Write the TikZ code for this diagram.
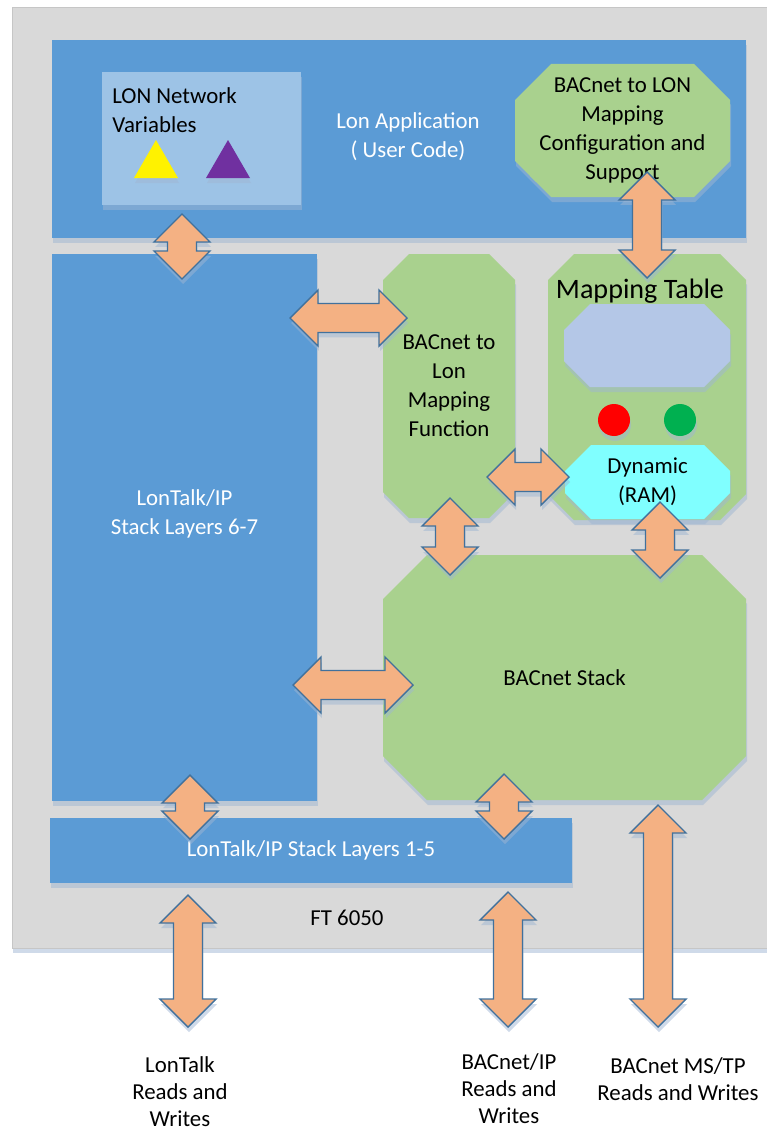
\documentclass[tikz,border=0pt]{standalone}
\usepackage{fontspec}
\setmainfont{Carlito}
\usetikzlibrary{positioning,fit,calc,shapes.misc,shadows}

\definecolor{azul}{HTML}{5B9BD5}
\definecolor{azulclaro}{HTML}{9DC3E6}
\definecolor{verde}{HTML}{A9D18E}
\definecolor{lila}{HTML}{B4C7E7}
\definecolor{cian}{HTML}{80FFFF}
\definecolor{salmon}{HTML}{F4B183}
\definecolor{borde}{HTML}{41719C}
\definecolor{fondo}{HTML}{D9D9D9}
\definecolor{sombra}{HTML}{9FB6D3}
\definecolor{morado}{HTML}{7030A0}
\definecolor{verdeok}{HTML}{00B050}

% flecha doble de bloque entre dos puntos
\newcommand\dblflecha[2]{%
  \path #1 coordinate (fa) #2 coordinate (fb);
  \filldraw[flecha] (fa)
    -- ($(fa)!0.56cm!(fb)!0.56cm!90:(fb)$)
    -- ($(fa)!0.56cm!(fb)!0.29cm!90:(fb)$)
    -- ($(fb)!0.56cm!(fa)!0.29cm!-90:(fa)$)
    -- ($(fb)!0.56cm!(fa)!0.56cm!-90:(fa)$)
    -- (fb)
    -- ($(fb)!0.56cm!(fa)!0.56cm!90:(fa)$)
    -- ($(fb)!0.56cm!(fa)!0.29cm!90:(fa)$)
    -- ($(fa)!0.56cm!(fb)!0.29cm!-90:(fb)$)
    -- ($(fa)!0.56cm!(fb)!0.56cm!-90:(fb)$)
    -- cycle;}

\begin{document}
\begin{tikzpicture}[x=0.02cm, y=-0.02cm,
    font=\fontsize{13}{16.5}\selectfont,
    somb/.style={drop shadow={shadow xshift=0.02cm, 
        shadow yshift=-0.1cm, fill=sombra, opacity=0.5}},
    caja/.style={fill=azul, inner sep=0pt, outer sep=0pt, somb},
    octo/.style={chamfered rectangle, 
        chamfered rectangle xsep=#1, chamfered rectangle ysep=#1,
        fill=verde, inner sep=-#1, outer sep=0pt, somb},
    octo/.default=0.26cm,
    flecha/.style={fill=salmon, draw=borde, line width=0.8pt, 
        line join=miter, somb},
    etiq/.style={align=center, inner sep=0pt},
    txtn/.style={label={[etiq]center:#1}},
    txtb/.style={label={[etiq, text=white]center:#1}},
    node distance = 0.56cm
    ]
    \useasboundingbox (0,0) rectangle (767,1132);
    % chip
    \node[fit={(12,7) (767,948)}, fill=fondo, draw=gray!45, 
        inner sep=0pt, outer sep=0pt, somb] (ft) {};
    \node[etiq] (ftlbl) at (347,918) {FT 6050};
    % aplicacion
    \node[caja, fit={(52,40) (746,238)}, 
        label={[etiq, text=white, xshift=0.18cm, yshift=0.05cm]center:Lon Application\\( User Code)}] (app) {};
    \node[caja, fill=azulclaro, fit={(102,72) (301,205)},
        label={[etiq, align=left, anchor=north west,
        xshift=0.2cm, yshift=-0.3cm]north west:LON Network\\Variables}] (nv) {};
    \fill[yellow, somb] (134,178) -- (156,140) -- (178,178) -- cycle;
    \fill[morado, somb] (206,178) -- (228,140) -- (250,178) -- cycle;
    \node[octo=0.36cm, fit={(515,64) (730,197)},
        txtn={BACnet to LON\\Mapping\\Configuration and\\Support}] (cfg) {};
    % pilas
    \node[caja, fit={(52,254) (317,801)}, 
        label={[etiq, text=white, yshift=0.28cm]center:LonTalk/IP\\Stack Layers 6-7}] (lt67) {};
    \node[octo, fit={(383,254) (515,518)},
        txtn={BACnet to\\Lon\\Mapping\\Function}] (mapfn) {};
    \node[octo, fit={(548,254) (746,520)},
        label={[etiq, font=\fontsize{16}{19}\selectfont, anchor=north,
        xshift=-0.14cm, yshift=-0.49cm]north:Mapping Table}] (tabla) {};
    \node[octo, fill=lila, fit={(564,304) (730,387)}] (lila) {};
    \node[circle, fill=red, minimum size=0.64cm, inner sep=0pt, somb] 
        (rojo) at (614,420) {};
    \node[circle, fill=verdeok, minimum size=0.64cm, inner sep=0pt, somb] 
        (vok) at (680,420) {};
    \node[octo, fill=cian, fit={(565,445) (730,519)},
        txtn={Dynamic\\(RAM)}] (dyn) {};
    \node[octo=0.44cm, fit={(383,555) (746,800)}, txtn={BACnet Stack}] (stack) {};
    \node[caja, fit={(50,818) (572,883)}, 
        txtb={LonTalk/IP Stack Layers 1-5}] (lt15) {};
    % salidas
    \coordinate (ltout) at (188,1027);
    \coordinate (ipout) at (508,1027);
    \coordinate (msout) at (658,1027);
    \node[etiq, font=\fontsize{13}{15.4}\selectfont, 
        below=0.58cm of ltout, xshift=-0.16cm] (ltlbl) 
        {LonTalk\\Reads and\\Writes};
    \node[etiq, font=\fontsize{13}{15.4}\selectfont, 
        below=0.52cm of ipout, xshift=0.02cm] (iplbl) 
        {BACnet/IP\\Reads and\\Writes};
    \node[etiq, font=\fontsize{13}{15.4}\selectfont, 
        below=0.6cm of msout, xshift=0.4cm] (mslbl) 
        {BACnet MS/TP\\Reads and Writes};
    % flechas
    \dblflecha{([shift={(-19.5,9)}]nv.south)}{([shift={(-2.5,25)}]lt67.north)}
    \dblflecha{([shift={(0,-25)}]cfg.south -| tabla.north)}{([shift={(0,24)}]tabla.north)}
    \dblflecha{([shift={(-27,64)}]lt67.north east)}{([shift={(24,-68)}]mapfn.west)}
    \dblflecha{([shift={(-28,91)}]mapfn.east)}{([shift={(4,-5)}]dyn.west)}
    \dblflecha{([shift={(1,-20)}]mapfn.south)}{([shift={(-114.5,20)}]stack.north)}
    \dblflecha{([shift={(12.5,-17)}]dyn.south)}{([shift={(95.5,23)}]stack.north)}
    \dblflecha{([shift={(-24,-116)}]lt67.south east)}{([shift={(30,7.5)}]stack.west)}
    \dblflecha{([shift={(5.5,-26)}]lt67.south)}{([shift={(-121,21)}]lt15.north)}
    \dblflecha{([shift={(-60.5,-26)}]stack.south)}{([shift={(-68,21)}]lt15.north east)}
    \dblflecha{([shift={(-123,12)}]lt15.south)}{(ltout)}
    \dblflecha{([shift={(-64,9)}]lt15.south east)}{(ipout)}
    \dblflecha{([shift={(93.5,5)}]stack.south)}{(msout)}
\end{tikzpicture}
\end{document}
